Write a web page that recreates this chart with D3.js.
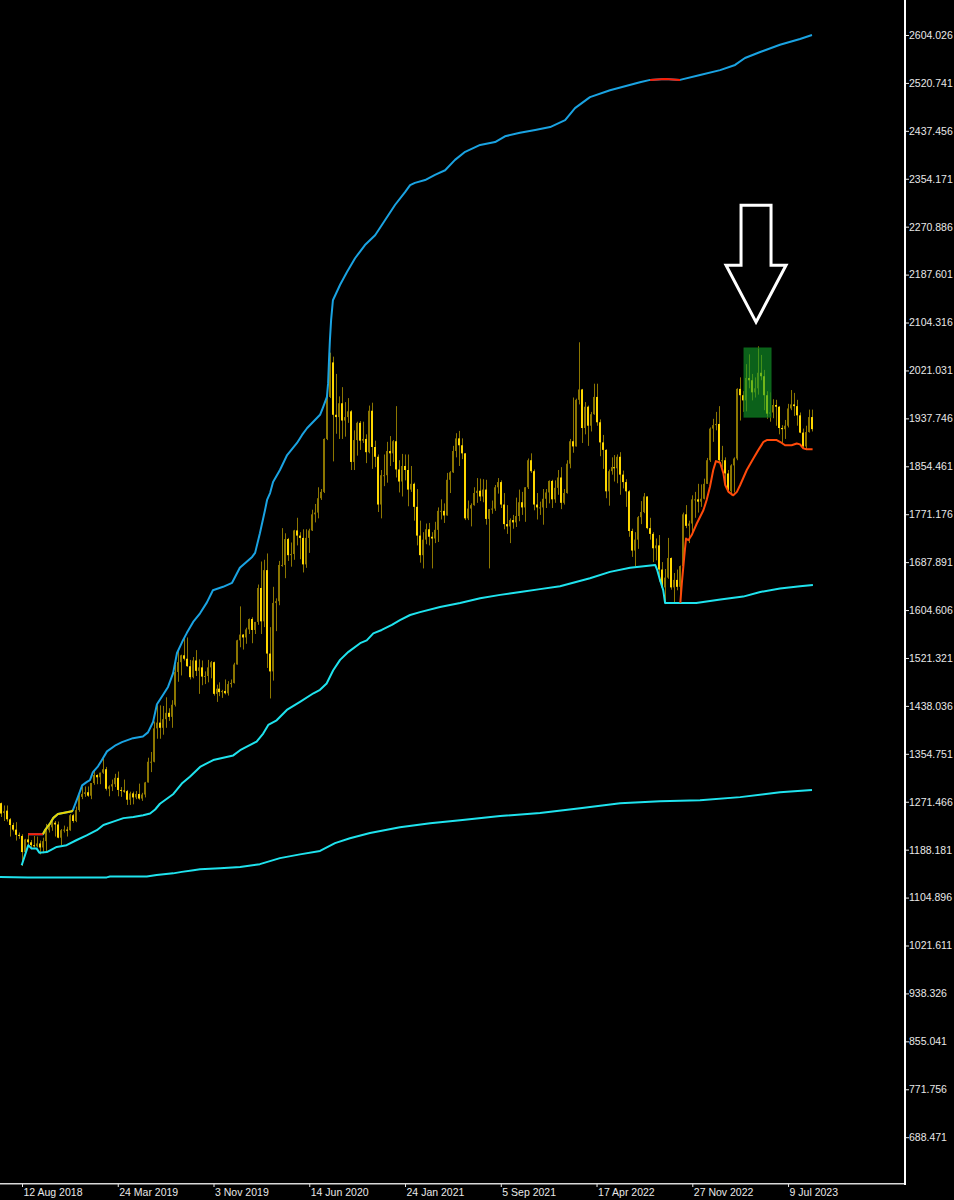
<!DOCTYPE html>
<html>
<head>
<meta charset="utf-8">
<script src="https://cdn.jsdelivr.net/npm/d3@7/dist/d3.min.js"></script>
<style>
html,body{margin:0;padding:0;background:#000;}
svg{display:block;}
</style>
</head>
<body>
<svg id="chart" width="954" height="1200"></svg>
<script>
// ---------- DATA ----------
// weekly candles, first bar = week of 17 Jun 2018 (Sunday dated), [open, high, low, close]
const firstWeek = Date.UTC(2018, 5, 17);

const ohlc2018 = [
[1278,1279,1261,1270],[1269,1270,1245,1251],[1252,1265,1238,1255],[1256,1265,1237,1241],
[1241,1243,1211,1231],[1231,1235,1220,1223],[1223,1236,1204,1214],[1214,1218,1207,1212],
[1212,1215,1160,1184],[1184,1207,1182,1206],[1206,1214,1196,1201],[1201,1205,1189,1196],
[1196,1212,1192,1194],[1194,1211,1192,1199],[1199,1204,1180,1192],[1192,1209,1182,1203],
[1203,1233,1183,1222],[1222,1233,1218,1227],[1227,1243,1221,1235],[1235,1238,1211,1232],
[1232,1237,1208,1209],[1209,1224,1196,1222],[1222,1230,1218,1223],[1223,1228,1211,1222],
[1222,1250,1221,1248],[1248,1250,1235,1238],[1238,1263,1236,1257],[1257,1283,1254,1280],
[1280,1298,1276,1285]];

const ohlc2019 = [
[1285,1298,1280,1288],[1288,1298,1280,1282],[1282,1304,1276,1304],[1304,1326,1301,1318],
[1318,1319,1302,1314],[1314,1322,1302,1322],[1322,1347,1320,1328],[1328,1332,1291,1294],
[1294,1300,1281,1298],[1298,1310,1290,1302],[1302,1320,1297,1313],[1313,1324,1281,1292],
[1292,1297,1280,1291],[1291,1310,1287,1290],[1290,1292,1266,1275],[1275,1289,1266,1286],
[1286,1289,1267,1279],[1279,1290,1276,1285],[1285,1303,1275,1277],[1277,1287,1273,1284],
[1284,1306,1279,1305],[1305,1348,1305,1341],[1341,1358,1323,1341],[1341,1411,1340,1399],
[1399,1439,1381,1409],[1409,1439,1381,1400],[1400,1438,1388,1415],[1415,1453,1400,1426],
[1426,1434,1412,1419],[1419,1448,1400,1440],[1440,1510,1437,1497],[1497,1535,1480,1514],
[1514,1527,1491,1526],[1526,1555,1517,1520],[1520,1557,1506,1507],[1507,1518,1484,1488],
[1488,1523,1486,1517],[1517,1535,1490,1499],[1499,1519,1459,1505],[1505,1517,1474,1489],
[1489,1498,1476,1490],[1490,1518,1479,1505],[1505,1516,1486,1514],[1514,1515,1456,1459],
[1459,1475,1445,1468],[1468,1479,1455,1462],[1462,1466,1452,1464],[1464,1484,1458,1460],
[1460,1481,1456,1476],[1476,1484,1470,1478],[1478,1513,1477,1510],[1510,1553,1510,1552]];

const ohlc2020 = [
[1552,1611,1540,1562],[1562,1563,1536,1557],[1557,1574,1546,1571],[1571,1590,1563,1589],
[1589,1592,1547,1570],[1570,1584,1563,1584],[1584,1649,1579,1643],[1643,1689,1563,1585],
[1585,1692,1575,1674],[1674,1703,1504,1529],[1529,1575,1451,1498],[1498,1645,1482,1617],
[1617,1625,1568,1620],[1620,1690,1613,1683],[1683,1747,1680,1683],[1683,1738,1660,1728],
[1728,1730,1690,1700],[1700,1722,1680,1702],[1702,1744,1692,1743],[1743,1765,1717,1734],
[1734,1740,1693,1730],[1730,1745,1670,1684],[1684,1745,1678,1730],[1730,1746,1704,1743],
[1743,1779,1742,1771],[1771,1789,1757,1774],[1774,1818,1764,1799],[1799,1815,1796,1810],
[1810,1903,1808,1902],[1902,1984,1900,1975],[1975,2052,1973,2035],[2035,2045,1863,1944],
[1944,2015,1911,1940],[1940,1976,1902,1964],[1964,1992,1902,1934],[1934,1966,1906,1940],
[1940,1973,1930,1950],[1950,1952,1848,1862],[1862,1917,1848,1900],[1900,1932,1873,1930],
[1930,1933,1883,1899],[1899,1932,1895,1902],[1902,1910,1860,1879],[1879,1960,1877,1951],
[1951,1965,1850,1888],[1888,1899,1853,1871],[1871,1875,1775,1788],[1788,1848,1764,1839],
[1839,1875,1820,1839],[1839,1897,1826,1881],[1881,1907,1855,1877],[1877,1900,1862,1898]];

const ohlc2021 = [
[1898,1959,1835,1849],[1849,1865,1809,1828],[1828,1876,1802,1855],[1855,1875,1830,1848],
[1848,1875,1785,1814],[1814,1855,1810,1824],[1824,1826,1760,1784],[1784,1815,1717,1734],
[1734,1760,1687,1700],[1700,1740,1677,1727],[1727,1755,1719,1745],[1745,1756,1717,1732],
[1732,1740,1677,1729],[1729,1758,1721,1744],[1744,1783,1723,1777],[1777,1797,1762,1777],
[1777,1790,1756,1769],[1769,1843,1769,1831],[1831,1846,1808,1844],[1844,1890,1843,1881],
[1881,1912,1870,1903],[1903,1916,1855,1891],[1891,1903,1867,1877],[1877,1877,1761,1764],
[1764,1795,1761,1781],[1781,1790,1750,1787],[1787,1818,1786,1808],[1808,1834,1791,1812],
[1812,1833,1794,1802],[1802,1832,1792,1814],[1814,1831,1753,1763],[1763,1780,1677,1780],
[1780,1795,1772,1781],[1781,1822,1777,1818],[1818,1834,1807,1827],[1827,1830,1782,1788],
[1788,1808,1745,1754],[1754,1787,1737,1750],[1750,1764,1721,1761],[1761,1770,1746,1757],
[1757,1800,1749,1768],[1768,1814,1759,1792],[1792,1810,1770,1783],[1783,1818,1758,1818],
[1818,1868,1815,1865],[1865,1877,1843,1846],[1846,1849,1778,1788],[1788,1808,1762,1783],
[1783,1793,1770,1783],[1783,1815,1753,1798],[1798,1815,1782,1809],[1809,1830,1790,1829]];

const ohlc2022 = [
[1829,1831,1782,1797],[1797,1830,1791,1817],[1817,1848,1805,1835],[1835,1853,1780,1791],
[1791,1815,1788,1808],[1808,1865,1807,1859],[1859,1902,1851,1898],[1898,1974,1878,1889],
[1889,1972,1889,1970],[1970,2070,1962,1988],[1988,1989,1895,1921],[1921,1966,1910,1958],
[1958,1960,1890,1925],[1925,1949,1915,1945],[1945,1998,1944,1975],[1975,1998,1925,1931],
[1931,1936,1872,1896],[1896,1909,1850,1883],[1883,1884,1799,1811],[1811,1849,1786,1846],
[1846,1870,1840,1853],[1853,1874,1828,1851],[1851,1875,1825,1871],[1871,1879,1805,1840],
[1840,1847,1816,1827],[1827,1832,1784,1811],[1811,1813,1732,1742],[1742,1746,1697,1708],
[1708,1740,1681,1727],[1727,1768,1711,1766],[1766,1794,1754,1775],[1775,1808,1773,1802],
[1802,1802,1745,1747],[1747,1765,1727,1737],[1737,1740,1688,1712],[1712,1729,1691,1717],
[1717,1735,1654,1675],[1675,1688,1639,1644],[1644,1676,1615,1661],[1661,1730,1659,1695],
[1695,1696,1640,1644],[1644,1669,1618,1657],[1657,1675,1639,1645],[1645,1682,1616,1681],
[1681,1774,1673,1771],[1771,1787,1747,1751],[1751,1760,1721,1755],[1755,1804,1740,1797],
[1797,1810,1765,1797],[1797,1824,1774,1793],[1793,1823,1784,1798],[1798,1833,1797,1824]];

const ohlc2023 = [
[1824,1869,1824,1865],[1865,1922,1862,1920],[1920,1937,1897,1926],[1926,1949,1917,1928],
[1928,1959,1861,1865],[1865,1890,1852,1865],[1865,1870,1819,1842],[1842,1848,1809,1811],
[1811,1858,1804,1856],[1856,1870,1809,1868],[1868,1990,1865,1989],[1989,2009,1934,1978],
[1978,1985,1949,1969],[1969,2032,1950,2008],[2008,2049,1990,2004],[2004,2015,1969,1983],
[1983,2009,1974,1990],[1990,2063,1979,2017],[2017,2048,2004,2011],[2011,2022,1952,1978],
[1978,1985,1937,1946],[1946,1983,1932,1948],[1948,1971,1938,1961],[1961,1970,1925,1958],
[1958,1959,1910,1921],[1921,1926,1893,1919],[1919,1935,1902,1925],[1925,1963,1922,1955],
[1955,1987,1952,1962],[1962,1982,1942,1959],[1959,1970,1925,1943],[1943,1948,1912,1913],
[1913,1920,1885,1889],[1889,1925,1884,1914],[1914,1953,1913,1940],[1940,1953,1915,1919]];

// indicator lines: [bar index, price]
const upperBand = [
[10,1215],[15,1215],[15.7,1222],[17.4,1234],[18.4,1243],[20,1250],[24.7,1255],[25,1257],[26.7,1280],
[28.1,1300],[29.7,1306],[30.7,1309],[31.7,1323],[33.4,1333],[34.7,1344],[36.4,1359],[39.4,1370],
[41.4,1375],[45.1,1382],[48.4,1385],[50.1,1392],[51.8,1410],[53.1,1441],[55.1,1457],[56.8,1471],
[58.5,1495],[59.8,1530],[61.5,1549],[63.1,1565],[65.2,1584],[67.5,1599],[69.8,1618],[71.8,1639],
[75.2,1645],[78.2,1652],[80.8,1678],[84.9,1697],[85.9,1704],[87.5,1738],[89.2,1778],[89.9,1796],
[90.9,1808],[91.9,1827],[94.2,1848],[96.6,1874],[99.9,1895],[101.6,1909],[103.3,1921],[105.9,1935],
[107.6,1944],[108.6,1957],[109.9,1975],[110.3,1999],[110.6,2039],[110.9,2074],[111.3,2109],
[111.9,2143],[114.3,2170],[116.6,2192],[119.3,2216],[122.6,2239],[126,2256],[129.3,2282],
[132.7,2309],[136,2331],[137.7,2343],[139.3,2347],[142.7,2352],[146,2361],[149.4,2369],
[152.7,2387],[156.1,2401],[161.1,2413],[166.1,2418],[169.4,2428],[174.4,2434],[179.5,2439],
[184.5,2444],[189.5,2456],[192.8,2477],[197.8,2496],[204.5,2508],[214.5,2522],[217.9,2526],
[222.9,2527.5],[227.9,2526],[234.6,2534.5],[241.3,2543],[246.3,2552],[249.6,2564],[254.7,2574.5],
[261.3,2587],[268,2597],[272,2604]];
const upperRedStart = [[10,1215],[15,1215]];
const upperYellow = [[15,1215],[15.7,1222],[17.4,1234],[18.4,1243],[20,1250],[24.7,1255],[25,1257]];
const upperRedTop = [[217.9,2526],[222.9,2527.5],[227.9,2526]];

const middleBand = [
[7.9,1161],[10.1,1196],[11.2,1190],[12.9,1190],[13.8,1183],[16.3,1184],[19.6,1193],[22.9,1196],
[26.3,1205],[29.6,1213],[33,1222],[35.2,1231],[38.5,1237],[41.9,1243],[45.2,1245],[48.5,1248],
[50.8,1251],[52.5,1258],[54.1,1268],[58.6,1285],[61.4,1303],[64.1,1315],[67.5,1332],[71.9,1344],
[78.6,1352],[80.9,1361],[86.4,1376],[88.6,1390],[90.3,1405],[93.1,1413],[96.5,1431],[100.9,1445],
[105.4,1460],[107.6,1466],[109.8,1477],[112,1500],[114.3,1518],[117.1,1532],[121,1547],
[123.2,1552],[125.4,1564],[128.2,1570],[131.6,1579],[134.3,1587],[137.7,1596],[141,1601],
[147.7,1610],[154.4,1617],[161.1,1625],[167.8,1631],[174.5,1636],[181.1,1641],[187.8,1646],
[192.8,1653],[197.8,1660],[204.5,1671],[211.2,1678],[219.6,1683],[220.3,1674],[221.2,1657],
[222.3,1639],[222.9,1617],[233.3,1617],[241.4,1623],[249,1628],[254.7,1636],[261.3,1642],
[268,1646],[272.3,1648]];

const lowerBand = [
[-1,1141],[10,1140],[36.3,1140],[37.4,1141.6],[49.7,1141.6],[53,1144],[58.5,1147],[61.4,1149.6],
[65.3,1152.6],[67.5,1154],[74.2,1156],[80.9,1158],[87.5,1163],[94.2,1173.5],[100.9,1180],
[107.6,1186],[112.6,1199.5],[117.6,1208],[124.3,1217],[134.3,1227],[144.4,1234],[154.4,1239.5],
[167.8,1246.5],[181.1,1252],[194.5,1260],[207.9,1269],[221.2,1272.5],[234.6,1274],[248,1279.5],
[261.3,1288],[272,1292]];

const orangeLine = [
[228,1617],[228.5,1651],[229.3,1697],[229.9,1729],[230.7,1726],[231.8,1735],[233.5,1755],
[235.7,1778],[236.8,1796],[237.9,1819],[239,1848],[239.9,1863.5],[241.3,1860.6],[242.4,1842],
[243,1822],[244.1,1810],[245.7,1804],[246.9,1810],[248,1822],[250.2,1848],[252.4,1868],
[254.1,1883],[255.8,1897],[256.9,1900],[260.2,1900],[261.9,1895],[263,1891],[265.2,1891],
[266.9,1894],[268,1892.6],[269.1,1885.6],[270.2,1884],[272.2,1884]];

// highlighted zone (bar range, price range) and arrow annotation
const zoneBars = [249.3, 258.3];
const zonePrices = [1940, 2060];
const arrowBar = 253.3;
const arrowPrices = {top: 2308, headBase: 2204, tip: 2105};

// axis tick labels
const yTickLabels = ["2604.026","2520.741","2437.456","2354.171","2270.886","2187.601","2104.316",
"2021.031","1937.746","1854.461","1771.176","1687.891","1604.606","1521.321","1438.036","1354.751",
"1271.466","1188.181","1104.896","1021.611","938.326","855.041","771.756","688.471"];
const xTickLabels = ["12 Aug 2018","24 Mar 2019","3 Nov 2019","14 Jun 2020","24 Jan 2021",
"5 Sep 2021","17 Apr 2022","27 Nov 2022","9 Jul 2023"];

// ---------- CHART ----------
const W = 954, H = 1200;
const plotRight = 904, plotBottom = 1183;
const DAY = 864e5;
const barDate = i => new Date(firstWeek + i * 7 * DAY);

const x = d3.scaleUtc()
  .domain([new Date(Date.UTC(2018,7,12)), new Date(Date.UTC(2022,10,27))])
  .range([22, 692.3]);
const y = d3.scaleLinear().domain([688.471, 2604.026]).range([1137.2, 35]);

const candles = [].concat(ohlc2018, ohlc2019, ohlc2020, ohlc2021, ohlc2022, ohlc2023)
  .map((d, i) => ({i, date: barDate(i), o: d[0], h: d[1], l: d[2], c: d[3]}));

const svg = d3.select("#chart");
svg.append("rect").attr("width", W).attr("height", H).attr("fill", "#000");

svg.append("defs").append("clipPath").attr("id", "plotClip")
  .append("rect").attr("x", 0).attr("y", 0).attr("width", plotRight).attr("height", plotBottom);

const plot = svg.append("g").attr("clip-path", "url(#plotClip)");

const dimGold = "#8c7600", brightGold = "#ffd700";

// candles
const cg = plot.append("g");
candles.forEach(d => {
  const cx = Math.round(x(d.date));
  const yH = y(d.h), yL = y(d.l);
  cg.append("rect").attr("x", cx).attr("y", yH).attr("width", 1).attr("height", Math.max(1, yL - yH))
    .attr("fill", dimGold);
  const top = y(Math.max(d.o, d.c)), bot = y(Math.min(d.o, d.c));
  cg.append("rect").attr("x", cx - 1).attr("y", top).attr("width", 2).attr("height", Math.max(1, bot - top))
    .attr("fill", d.c >= d.o ? dimGold : brightGold);
});

const line = d3.line().x(d => x(barDate(d[0]))).y(d => y(d[1]));

function drawLine(data, color, w) {
  plot.append("path").datum(data).attr("d", line).attr("fill", "none")
    .attr("stroke", color).attr("stroke-width", w).attr("stroke-linejoin", "round");
}
drawLine(lowerBand, "#1fe3ee", 2);
drawLine(middleBand, "#1fe3ee", 2);
drawLine(upperBand, "#1aa3e2", 2);
drawLine(upperRedStart, "#ff1a00", 2);
drawLine(upperYellow, "#e8d400", 2);
drawLine(upperRedTop, "#ff1a00", 2);
drawLine(orangeLine, "#ff4a0a", 2);

// highlighted zone
const zx0 = x(barDate(zoneBars[0])), zx1 = x(barDate(zoneBars[1]));
plot.append("rect")
  .attr("x", zx0).attr("y", y(zonePrices[1]))
  .attr("width", zx1 - zx0).attr("height", y(zonePrices[0]) - y(zonePrices[1]))
  .attr("fill", "#12a22c").attr("fill-opacity", 0.6)
  .attr("stroke", "#0c6a1c").attr("stroke-width", 1);

// arrow
const ax = x(barDate(arrowBar));
const yt = y(arrowPrices.top), yb = y(arrowPrices.headBase), yp = y(arrowPrices.tip);
const arrowPts = [[ax-15,yt],[ax+15,yt],[ax+15,yb],[ax+30,yb],[ax,yp],[ax-30,yb],[ax-15,yb]];
plot.append("polygon").attr("points", arrowPts.map(p => p.join(",")).join(" "))
  .attr("fill", "#000").attr("stroke", "#fff").attr("stroke-width", 3).attr("stroke-linejoin", "miter");

// axes
const axisColor = "#e8e8e8";
const yAxis = d3.axisRight(y).tickValues(yTickLabels.map(Number))
  .tickFormat((d, i) => yTickLabels[i]).tickSize(3).tickPadding(0);
const gy = svg.append("g").attr("transform", `translate(${plotRight + 2},0)`).call(yAxis);
gy.select(".domain").remove();
gy.selectAll("line").attr("stroke", axisColor);
gy.selectAll("text").attr("fill", axisColor).attr("font-family", "'Liberation Sans', Arial, sans-serif")
  .attr("font-size", "10.5px");

const monthIdx = {Jan:0,Feb:1,Mar:2,Apr:3,May:4,Jun:5,Jul:6,Aug:7,Sep:8,Oct:9,Nov:10,Dec:11};
const xTickDates = xTickLabels.map(s => { const p = s.split(" "); return new Date(Date.UTC(+p[2], monthIdx[p[1]], +p[0])); });
const xAxis = d3.axisBottom(x).tickValues(xTickDates).tickFormat((d, i) => xTickLabels[i]).tickSize(3).tickPadding(2);
const gx = svg.append("g").attr("transform", `translate(0,${plotBottom + 1})`).call(xAxis);
gx.select(".domain").remove();
gx.selectAll("line").attr("stroke", axisColor);
gx.selectAll("text").attr("fill", axisColor).attr("font-family", "'Liberation Sans', Arial, sans-serif")
  .attr("font-size", "10.5px").attr("text-anchor", "start").attr("dx", "1");

// frame lines
svg.append("rect").attr("x", plotRight).attr("y", 0).attr("width", 2).attr("height", plotBottom + 2).attr("fill", "#fff");
svg.append("rect").attr("x", 0).attr("y", plotBottom).attr("width", plotRight).attr("height", 1.5).attr("fill", "#d8d8d8");
</script>
</body>
</html>
